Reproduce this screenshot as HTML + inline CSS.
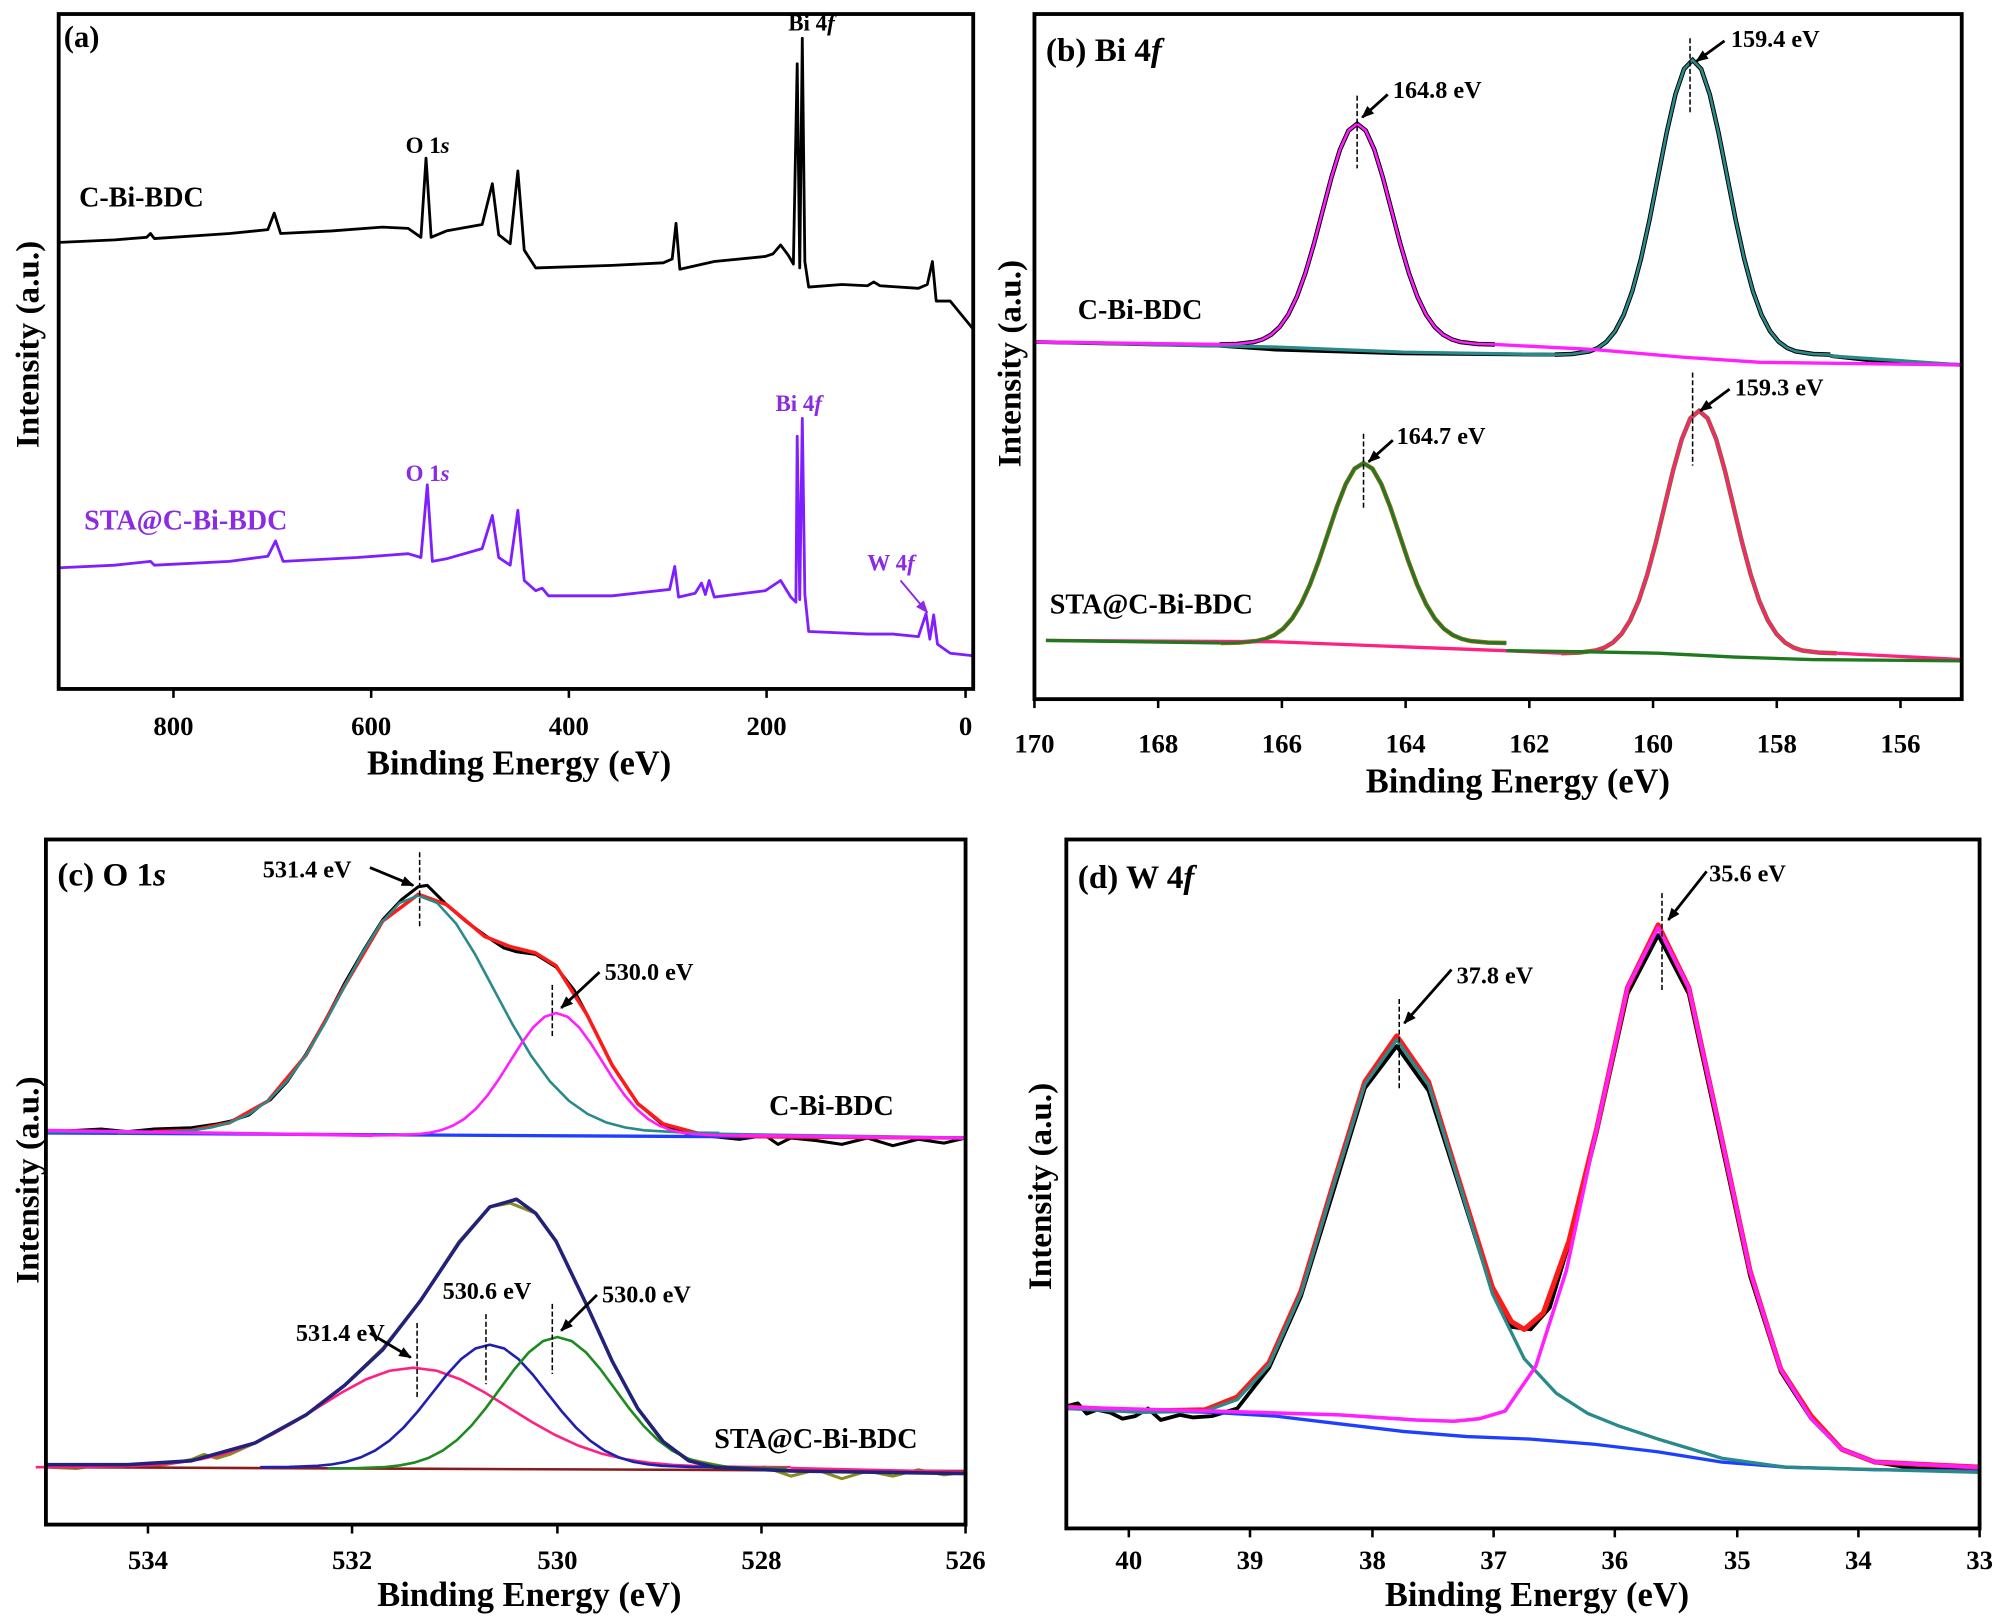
<!DOCTYPE html>
<html><head><meta charset="utf-8">
<style>
html,body{margin:0;padding:0;background:#fff;}
svg{display:block;}
text{font-family:"Liberation Serif",serif;font-weight:bold;}
</style></head>
<body>
<svg xmlns="http://www.w3.org/2000/svg" xmlns:xlink="http://www.w3.org/1999/xlink" width="2000" height="1619" viewBox="0 0 1568 1269" preserveAspectRatio="none">
<defs>
<path id="gp" vector-effect="non-scaling-stroke" fill="none" d="M-4,0 L-3.5,-0.0022 L-3,-0.0111 L-2.75,-0.0228 L-2.5,-0.0439 L-2.25,-0.0796 L-2,-0.1353 L-1.75,-0.2163 L-1.5,-0.3247 L-1.25,-0.4578 L-1,-0.6065 L-0.75,-0.7548 L-0.5,-0.8825 L-0.25,-0.9692 L0,-1 L0.25,-0.9692 L0.5,-0.8825 L0.75,-0.7548 L1,-0.6065 L1.25,-0.4578 L1.5,-0.3247 L1.75,-0.2163 L2,-0.1353 L2.25,-0.0796 L2.5,-0.0439 L2.75,-0.0228 L3,-0.0111 L3.5,-0.0022 L4,0"/>
<marker id="ah" markerWidth="10" markerHeight="8" refX="9" refY="4" orient="auto" markerUnits="userSpaceOnUse"><path d="M0,0 L10,4 L0,8 Z" fill="#000"/></marker>
<marker id="ahp" markerWidth="10" markerHeight="8" refX="9" refY="4" orient="auto" markerUnits="userSpaceOnUse"><path d="M0,0 L10,4 L0,8 Z" fill="#8b2be2"/></marker>
</defs>
<rect width="1568" height="1269" fill="#fff"/>

<!-- ===== (a) ===== -->
<polyline fill="none" stroke="#000" stroke-width="2.2" stroke-linejoin="round" points="47,190 90,188 115,186 118,183 121,187 180,183 210,180 215,167 220,183 260,181 300,178 320,179 330,186 334,124 338,186 350,181 378,176 386,144 391,184 400,191 406,134 411,196 420,210 480,208 520,206 527,203 530,175 533,211 560,205 600,201 606,199 612,192 618,200 622,207 625,50 627,210 629,30 631,205 634,225 660,223 680,224 685,221 690,224 720,226 727,223 731,205 734,236 745,236 763,258"/>
<polyline fill="none" stroke="#7f1fff" stroke-width="2.2" stroke-linejoin="round" points="47,445 90,443 118,440 121,443 180,440 210,436 216,424 222,440 280,437 320,434 330,437 335,380 339,440 350,438 378,430 386,404 391,437 400,443 406,400 411,455 420,463 425,461 430,467 480,467 525,462 529,444 532,468 545,465 550,457 553,466 556,455 560,468 600,463 612,455 620,468 624,472 625,342 627,470 629,328 631,466 634,495 680,497 700,497 720,499 726,481 729,501 732,482 735,505 745,512 763,514"/>
<text x="50" y="37" font-size="24">(a)</text>
<text x="618" y="24" font-size="18">Bi 4<tspan font-style="italic">f</tspan></text>
<text x="318" y="120" font-size="18">O 1<tspan font-style="italic">s</tspan></text>
<text x="62" y="162" font-size="22">C-Bi-BDC</text>
<g fill="#8b2be2">
<text x="318" y="377" font-size="18">O 1<tspan font-style="italic">s</tspan></text>
<text x="608" y="322" font-size="18">Bi 4<tspan font-style="italic">f</tspan></text>
<text x="66" y="415" font-size="22">STA@C-Bi-BDC</text>
<text x="680" y="447" font-size="18">W 4<tspan font-style="italic">f</tspan></text>
</g>
<line x1="706" y1="455" x2="727" y2="480" stroke="#8b2be2" stroke-width="1.5" marker-end="url(#ahp)"/>
<text transform="translate(30,270) rotate(-90)" text-anchor="middle" font-size="26">Intensity (a.u.)</text>
<g stroke="#000" stroke-width="2">
<line x1="136" y1="540" x2="136" y2="547"/><line x1="291" y1="540" x2="291" y2="547"/><line x1="446" y1="540" x2="446" y2="547"/><line x1="601" y1="540" x2="601" y2="547"/><line x1="757" y1="540" x2="757" y2="547"/>
</g>
<g font-size="21" text-anchor="middle">
<text x="136" y="576">800</text><text x="291" y="576">600</text><text x="446" y="576">400</text><text x="601" y="576">200</text><text x="757" y="576">0</text>
</g>
<text x="407" y="607" font-size="27" text-anchor="middle">Binding Energy (eV)</text>

<!-- ===== (b) ===== -->
<g stroke="#000" stroke-width="4.5">
<use xlink:href="#gp" transform="translate(1064,270) scale(27,173)"/>
<use xlink:href="#gp" transform="translate(1327,278) scale(27,231)"/>
</g>
<polyline fill="none" stroke="#000" stroke-width="3" points="811,268 956,271 1000,274 1100,277 1219,278"/>
<polyline fill="none" stroke="#000" stroke-width="3" points="1435,279 1480,284 1538,286"/>
<polyline fill="none" stroke="#2a8a8a" stroke-width="2.6" points="811,268 1000,272 1100,276 1219,278"/>
<polyline fill="none" stroke="#2a8a8a" stroke-width="2.6" points="1435,279 1538,286"/>
<use xlink:href="#gp" transform="translate(1327,278) scale(27,231)" stroke="#2a8a8a" stroke-width="2.6"/>
<polyline fill="none" stroke="#ff1fff" stroke-width="2.6" points="811,268 956,270"/>
<polyline fill="none" stroke="#ff1fff" stroke-width="2.6" points="1172,270 1250,274 1320,280 1380,284 1538,286"/>
<use xlink:href="#gp" transform="translate(1064,270) scale(27,173)" stroke="#ff1fff" stroke-width="2.6"/>
<g stroke="#8a6a20" stroke-width="4.5">
<use xlink:href="#gp" transform="translate(1069,504) scale(28,141)"/>
<use xlink:href="#gp" transform="translate(1332,512) scale(27,190)"/>
</g>
<polyline fill="none" stroke="#ff2080" stroke-width="2.6" points="820,502 1000,503 1100,507 1180,510 1224,512"/>
<polyline fill="none" stroke="#ff2080" stroke-width="2.6" points="1440,512 1538,517"/>
<use xlink:href="#gp" transform="translate(1332,512) scale(27,190)" stroke="#ff2080" stroke-width="2.6"/>
<polyline fill="none" stroke="#1f7a1f" stroke-width="2.6" points="820,502 957,504"/>
<polyline fill="none" stroke="#1f7a1f" stroke-width="2.6" points="1181,510 1250,511 1300,512 1360,515 1420,517 1538,518"/>
<use xlink:href="#gp" transform="translate(1069,504) scale(28,141)" stroke="#1f7a1f" stroke-width="2.6"/>
<text x="820" y="48" font-size="26">(b) Bi 4<tspan font-style="italic">f</tspan></text>
<text transform="translate(800,285) rotate(-90)" text-anchor="middle" font-size="26">Intensity (a.u.)</text>
<text x="845" y="250" font-size="22">C-Bi-BDC</text>
<text x="823" y="481" font-size="22">STA@C-Bi-BDC</text>
<g font-size="19">
<text x="1092" y="77">164.8 eV</text>
<text x="1357" y="37">159.4 eV</text>
<text x="1095" y="348">164.7 eV</text>
<text x="1360" y="310">159.3 eV</text>
</g>
<g stroke="#000" stroke-width="1.2" stroke-dasharray="4,2">
<line x1="1064" y1="75" x2="1064" y2="132"/><line x1="1325" y1="30" x2="1325" y2="90"/>
<line x1="1069" y1="340" x2="1069" y2="400"/><line x1="1327" y1="292" x2="1327" y2="365"/>
</g>
<g stroke="#000" stroke-width="2.2">
<line x1="1088" y1="74" x2="1068" y2="92" marker-end="url(#ah)"/>
<line x1="1352" y1="32" x2="1330" y2="48" marker-end="url(#ah)"/>
<line x1="1092" y1="345" x2="1073" y2="362" marker-end="url(#ah)"/>
<line x1="1356" y1="305" x2="1333" y2="322" marker-end="url(#ah)"/>
</g>
<g stroke="#000" stroke-width="2">
<line x1="811" y1="548" x2="811" y2="555"/><line x1="908" y1="548" x2="908" y2="555"/><line x1="1005" y1="548" x2="1005" y2="555"/><line x1="1102" y1="548" x2="1102" y2="555"/><line x1="1199" y1="548" x2="1199" y2="555"/><line x1="1296" y1="548" x2="1296" y2="555"/><line x1="1393" y1="548" x2="1393" y2="555"/><line x1="1490" y1="548" x2="1490" y2="555"/>
</g>
<g font-size="21" text-anchor="middle">
<text x="811" y="590">170</text><text x="908" y="590">168</text><text x="1005" y="590">166</text><text x="1102" y="590">164</text><text x="1199" y="590">162</text><text x="1296" y="590">160</text><text x="1393" y="590">158</text><text x="1490" y="590">156</text>
</g>
<text x="1190" y="621" font-size="27" text-anchor="middle">Binding Energy (eV)</text>

<!-- ===== (c) ===== -->
<polyline fill="none" stroke="#000" stroke-width="2.4" stroke-linejoin="round" points="37,887 60,886 80,885 100,887 120,885 150,884 170,881 180,879 195,874 205,866 212,862 225,848 240,826 255,800 270,771 285,745 300,721 315,705 328,695 335,694 350,709 365,722 380,733 395,743 405,746 420,748 436,758 450,776 460,795 480,835 500,865 520,882 540,889 560,891 580,893 600,890 610,897 620,892 640,894 660,897 680,892 700,898 720,893 740,896 757,892"/>
<polyline fill="none" stroke="#1f3fff" stroke-width="2.6" points="36,888 757,892"/>
<polyline fill="none" stroke="#ff1a1a" stroke-width="2.8" stroke-linejoin="round" points="120,887 150,886 180,880 210,863 240,827 270,773 300,722 328,701 350,709 380,734 400,742 420,747 436,757 460,795 480,835 500,865 520,881 550,889 600,891 757,892"/>
<polyline fill="none" stroke="#2a8a8a" stroke-width="2.6" points="36,887 92,887"/>
<use xlink:href="#gp" transform="translate(328,888) scale(59,186)" stroke="#2a8a8a" stroke-width="2.6"/>
<polyline fill="none" stroke="#2a8a8a" stroke-width="2.6" points="564,889 757,892"/>
<polyline fill="none" stroke="#ff1fff" stroke-width="2.6" points="36,886 292,890"/>
<use xlink:href="#gp" transform="translate(436,890) scale(36,96)" stroke="#ff1fff" stroke-width="2.6"/>
<polyline fill="none" stroke="#ff1fff" stroke-width="2.6" points="580,890 757,892"/>
<polyline fill="none" stroke="#8a8a20" stroke-width="2.4" stroke-linejoin="round" points="37,1150 60,1151 80,1148 100,1150 130,1148 150,1144 160,1140 170,1143 180,1140 200,1131 240,1109 270,1086 300,1057 330,1019 360,973 384,946 400,943 420,951 436,973 460,1023 480,1067 500,1104 520,1131 540,1144 560,1148 580,1152 600,1150 620,1157 640,1152 660,1159 680,1153 700,1157 720,1152 740,1156 757,1154"/>
<line x1="36" y1="1150" x2="757" y2="1153" stroke="#8b1a1a" stroke-width="2"/>
<use xlink:href="#gp" transform="translate(324,1150) scale(74,78)" stroke="#ff2080" stroke-width="2.6"/>
<polyline fill="none" stroke="#ff2080" stroke-width="2.6" points="620,1151 757,1154"/>
<use xlink:href="#gp" transform="translate(384,1150) scale(45,96)" stroke="#2020b0" stroke-width="2.6"/>
<use xlink:href="#gp" transform="translate(437,1151) scale(45,103)" stroke="#1f8a1f" stroke-width="2.6"/>
<polyline fill="none" stroke="#22227a" stroke-width="2.8" stroke-linejoin="round" points="36,1148 100,1148 150,1145 200,1131 240,1109 270,1086 300,1058 330,1019 360,974 384,946 405,940 420,951 436,973 460,1023 480,1067 500,1104 520,1130 540,1145 560,1150 620,1153 757,1155"/>
<text x="45" y="694" font-size="26">(c) O 1<tspan font-style="italic">s</tspan></text>
<text transform="translate(30,925) rotate(-90)" text-anchor="middle" font-size="26">Intensity (a.u.)</text>
<text x="603" y="874" font-size="22">C-Bi-BDC</text>
<text x="560" y="1135" font-size="22">STA@C-Bi-BDC</text>
<g font-size="19">
<text x="206" y="688">531.4 eV</text>
<text x="474" y="768">530.0 eV</text>
<text x="232" y="1051">531.4 eV</text>
<text x="347" y="1018">530.6 eV</text>
<text x="472" y="1021">530.0 eV</text>
</g>
<g stroke="#000" stroke-width="1.2" stroke-dasharray="4,2">
<line x1="329" y1="668" x2="329" y2="727"/><line x1="433" y1="772" x2="433" y2="812"/>
<line x1="327" y1="1037" x2="327" y2="1097"/><line x1="381" y1="1030" x2="381" y2="1085"/><line x1="433" y1="1022" x2="433" y2="1077"/>
</g>
<g stroke="#000" stroke-width="2.2">
<line x1="290" y1="680" x2="324" y2="694" marker-end="url(#ah)"/>
<line x1="470" y1="762" x2="440" y2="790" marker-end="url(#ah)"/>
<line x1="290" y1="1045" x2="322" y2="1064" marker-end="url(#ah)"/>
<line x1="468" y1="1015" x2="440" y2="1043" marker-end="url(#ah)"/>
</g>
<g stroke="#000" stroke-width="2">
<line x1="116" y1="1195" x2="116" y2="1202"/><line x1="276" y1="1195" x2="276" y2="1202"/><line x1="437" y1="1195" x2="437" y2="1202"/><line x1="597" y1="1195" x2="597" y2="1202"/><line x1="757" y1="1195" x2="757" y2="1202"/>
</g>
<g font-size="21" text-anchor="middle">
<text x="116" y="1230">534</text><text x="276" y="1230">532</text><text x="437" y="1230">530</text><text x="597" y="1230">528</text><text x="757" y="1230">526</text>
</g>
<text x="415" y="1259" font-size="27" text-anchor="middle">Binding Energy (eV)</text>

<!-- ===== (d) ===== -->
<polyline fill="none" stroke="#000" stroke-width="3" stroke-linejoin="round" points="837,1102 845,1100 852,1108 860,1105 870,1107 880,1112 890,1110 900,1104 910,1113 925,1109 935,1111 950,1110 970,1104 995,1072 1020,1016 1045,935 1070,853 1095,820 1120,855 1145,933 1170,1012 1185,1040 1200,1042 1215,1025 1230,975 1252,887 1276,779 1300,733 1324,779 1348,889 1372,1000 1396,1075 1420,1112 1444,1136 1470,1146 1500,1151 1552,1153"/>
<polyline fill="none" stroke="#1f3fff" stroke-width="2.6" points="836,1104 950,1107 1000,1110 1050,1116 1100,1122 1150,1126 1200,1128 1250,1132 1300,1138 1350,1146 1400,1150 1470,1152 1552,1153"/>
<polyline fill="none" stroke="#ff1a1a" stroke-width="4" stroke-linejoin="round" points="836,1103 895,1106 945,1105 970,1095 995,1068 1020,1012 1045,929 1070,848 1095,812 1120,848 1145,929 1170,1009 1185,1036 1195,1042 1210,1029 1230,973 1252,884 1276,774 1300,725 1324,774 1348,884 1372,996 1396,1073 1420,1110 1444,1136 1470,1146 1552,1150"/>
<polyline fill="none" stroke="#2a8a8a" stroke-width="2.6" stroke-linejoin="round" points="836,1104 895,1107 945,1106 970,1097 995,1070 1020,1014 1045,931 1070,850 1095,815 1120,850 1145,931 1170,1014 1195,1065 1220,1092 1245,1108 1270,1118 1300,1128 1350,1143 1400,1150 1552,1154"/>
<polyline fill="none" stroke="#ff1fff" stroke-width="2.8" stroke-linejoin="round" points="836,1103 950,1106 1050,1109 1110,1113 1140,1114 1160,1112 1180,1106 1204,1071 1228,996 1252,884 1276,774 1300,727 1324,774 1348,884 1372,996 1396,1073 1420,1112 1444,1136 1470,1146 1552,1150"/>
<text x="845" y="696" font-size="26">(d) W 4<tspan font-style="italic">f</tspan></text>
<text transform="translate(824,930) rotate(-90)" text-anchor="middle" font-size="26">Intensity (a.u.)</text>
<g font-size="19">
<text x="1142" y="771">37.8 eV</text>
<text x="1340" y="691">35.6 eV</text>
</g>
<g stroke="#000" stroke-width="1.2" stroke-dasharray="4,2">
<line x1="1097" y1="783" x2="1097" y2="853"/><line x1="1303" y1="700" x2="1303" y2="778"/>
</g>
<g stroke="#000" stroke-width="2.2">
<line x1="1138" y1="760" x2="1101" y2="802" marker-end="url(#ah)"/>
<line x1="1338" y1="683" x2="1308" y2="721" marker-end="url(#ah)"/>
</g>
<g stroke="#000" stroke-width="2">
<line x1="885" y1="1198" x2="885" y2="1205"/><line x1="980" y1="1198" x2="980" y2="1205"/><line x1="1076" y1="1198" x2="1076" y2="1205"/><line x1="1171" y1="1198" x2="1171" y2="1205"/><line x1="1266" y1="1198" x2="1266" y2="1205"/><line x1="1362" y1="1198" x2="1362" y2="1205"/><line x1="1457" y1="1198" x2="1457" y2="1205"/><line x1="1552" y1="1198" x2="1552" y2="1205"/>
</g>
<g font-size="21" text-anchor="middle">
<text x="885" y="1230">40</text><text x="980" y="1230">39</text><text x="1076" y="1230">38</text><text x="1171" y="1230">37</text><text x="1266" y="1230">36</text><text x="1362" y="1230">35</text><text x="1457" y="1230">34</text><text x="1552" y="1230">33</text>
</g>
<text x="1205" y="1259" font-size="27" text-anchor="middle">Binding Energy (eV)</text>

<g fill="none" stroke="#000" stroke-width="3">
<rect x="46" y="11" width="717" height="529"/>
<rect x="811" y="11" width="727" height="537"/>
<rect x="36" y="658" width="721" height="537"/>
<rect x="836" y="658" width="716" height="540"/>
</g>
</svg>
</body></html>
